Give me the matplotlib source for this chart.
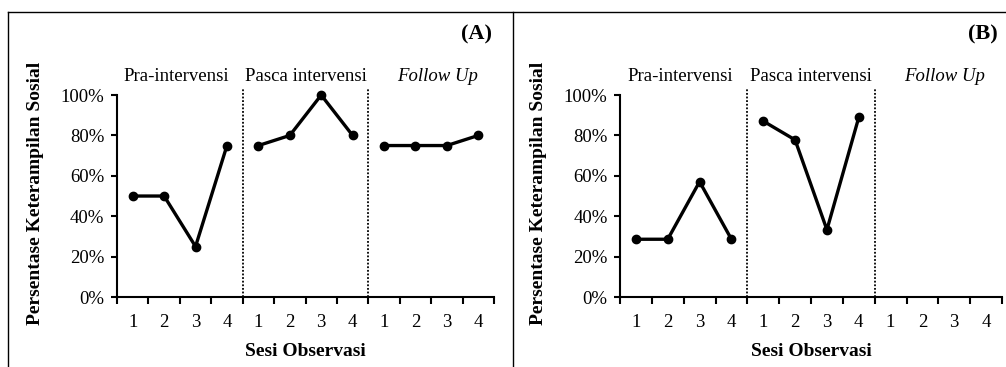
import numpy as np
import matplotlib
matplotlib.use("Agg")
import matplotlib.pyplot as plt
from matplotlib.lines import Line2D
from matplotlib.ticker import PercentFormatter

plt.rcParams['font.family'] = ['Liberation Serif', 'DejaVu Serif']

sessions = ['1', '2', '3', '4']
phases = ['Pra-intervensi', 'Pasca intervensi', 'Follow Up']

# panel A
a_pre = [0.50, 0.50, 0.25, 0.75]
a_post = [0.75, 0.80, 1.00, 0.80]
a_follow = [0.75, 0.75, 0.75, 0.80]
# panel B (no follow up data)
b_pre = [0.286, 0.286, 0.571, 0.286]
b_post = [0.871, 0.778, 0.333, 0.889]
b_follow = []

W, H = 1006, 367
fig = plt.figure(figsize=(W / 100, H / 100), dpi=100)


def px(x0, y0, x1, y1):
    # pixel box -> figure fraction rect
    return [x0 / W, 1 - y1 / H, (x1 - x0) / W, (y1 - y0) / H]


def panel(rect, series, tag, tag_x):
    ax = fig.add_axes(rect)
    for i, vals in enumerate(series):
        if not vals:
            continue
        xs = np.arange(len(vals)) + 1 + 4 * i
        ax.plot(xs, vals, color='black', lw=2.4, marker='o', ms=6, clip_on=False, zorder=3)
    ax.set_xlim(0.5, 12.5)
    ax.set_ylim(0, 1.03)
    for xd in [4.5, 8.5]:
        ax.plot([xd, xd], [0, 1.03], color='black', lw=1.3, ls=(0, (1, 1)), zorder=2)
    ax.set_xticks(np.arange(1, 13))
    ax.set_xticklabels(sessions * 3)
    ax.set_xticks(np.arange(0.5, 13, 1), minor=True)
    ax.tick_params(axis='x', which='major', length=0, pad=12, labelsize=13.5)
    ax.tick_params(axis='x', which='minor', length=5, width=1.5, direction='out')
    ax.set_yticks(np.arange(0, 1.01, 0.2))
    ax.yaxis.set_major_formatter(PercentFormatter(1.0, decimals=0))
    ax.tick_params(axis='y', length=4, width=1.5, labelsize=13.5, pad=5)
    for s in ['top', 'right']:
        ax.spines[s].set_visible(False)
    ax.spines['left'].set_linewidth(1.5)
    ax.spines['bottom'].set_linewidth(1.5)
    ax.spines['left'].set_bounds(0, 1.0)
    for i, name in enumerate(phases):
        xc = [2.4, 6.5, 10.7][i]
        ax.text(xc, 1.09, name, ha='center', va='center', fontsize=13.5,
                style='italic' if name == 'Follow Up' else 'normal')
    ax.set_xlabel('Sesi Observasi', fontsize=14, fontweight='bold', labelpad=9)
    ax.set_ylabel('Persentase Keterampilan Sosial', fontsize=14, fontweight='bold', labelpad=12)
    fig.text(tag_x / W, 1 - 34 / H, tag, ha='right', va='center',
             fontsize=16, fontweight='bold')
    return ax


panel(px(117, 89, 494, 297), [a_pre, a_post, a_follow], '(A)', 492)
panel(px(620, 89, 1002, 297), [b_pre, b_post, b_follow], '(B)', 998)

# frame lines around the panels
lw = 1.0
fig.add_artist(Line2D([8 / W, 1], [1 - 12 / H] * 2, color='black', lw=lw))
fig.add_artist(Line2D([8 / W] * 2, [0, 1 - 12 / H], color='black', lw=lw))
fig.add_artist(Line2D([513 / W] * 2, [0, 1 - 12 / H], color='black', lw=lw))

fig.savefig('out.png', dpi=100)
